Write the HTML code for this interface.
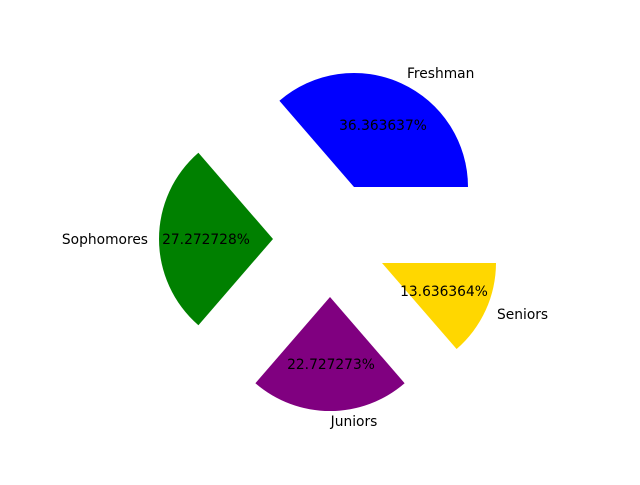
<!DOCTYPE html>
<html><head><style>html,body{margin:0;padding:0;background:#fff}</style></head>
<body>
<svg width="640" height="480" viewBox="0 0 640 480" xmlns="http://www.w3.org/2000/svg" font-family="DejaVu Sans, Liberation Sans, sans-serif" font-size="13.8" fill="#000">
<rect width="640" height="480" fill="#fff"/>
<path d="M354,187 L468,187 A114,114 0 0 0 279.4,100.8 Z" fill="#0000ff"/>
<path d="M273,239 L198.4,152.8 A114,114 0 0 0 198.4,325.2 Z" fill="#008000"/>
<path d="M330,297 L255.4,383.2 A114,114 0 0 0 404.6,383.2 Z" fill="#800080"/>
<path d="M382,263 L456.6,349 A114,114 0 0 0 496,263 Z" fill="#ffd700"/>
<text x="407" y="78">Freshman</text>
<text x="383" y="130" text-anchor="middle">36.363637%</text>
<text x="148" y="244" text-anchor="end">Sophomores</text>
<text x="206" y="244" text-anchor="middle">27.272728%</text>
<text x="331" y="369" text-anchor="middle">22.727273%</text>
<text x="354" y="426" text-anchor="middle">Juniors</text>
<text x="444" y="296" text-anchor="middle">13.636364%</text>
<text x="497" y="319">Seniors</text>
</svg>
</body></html>
